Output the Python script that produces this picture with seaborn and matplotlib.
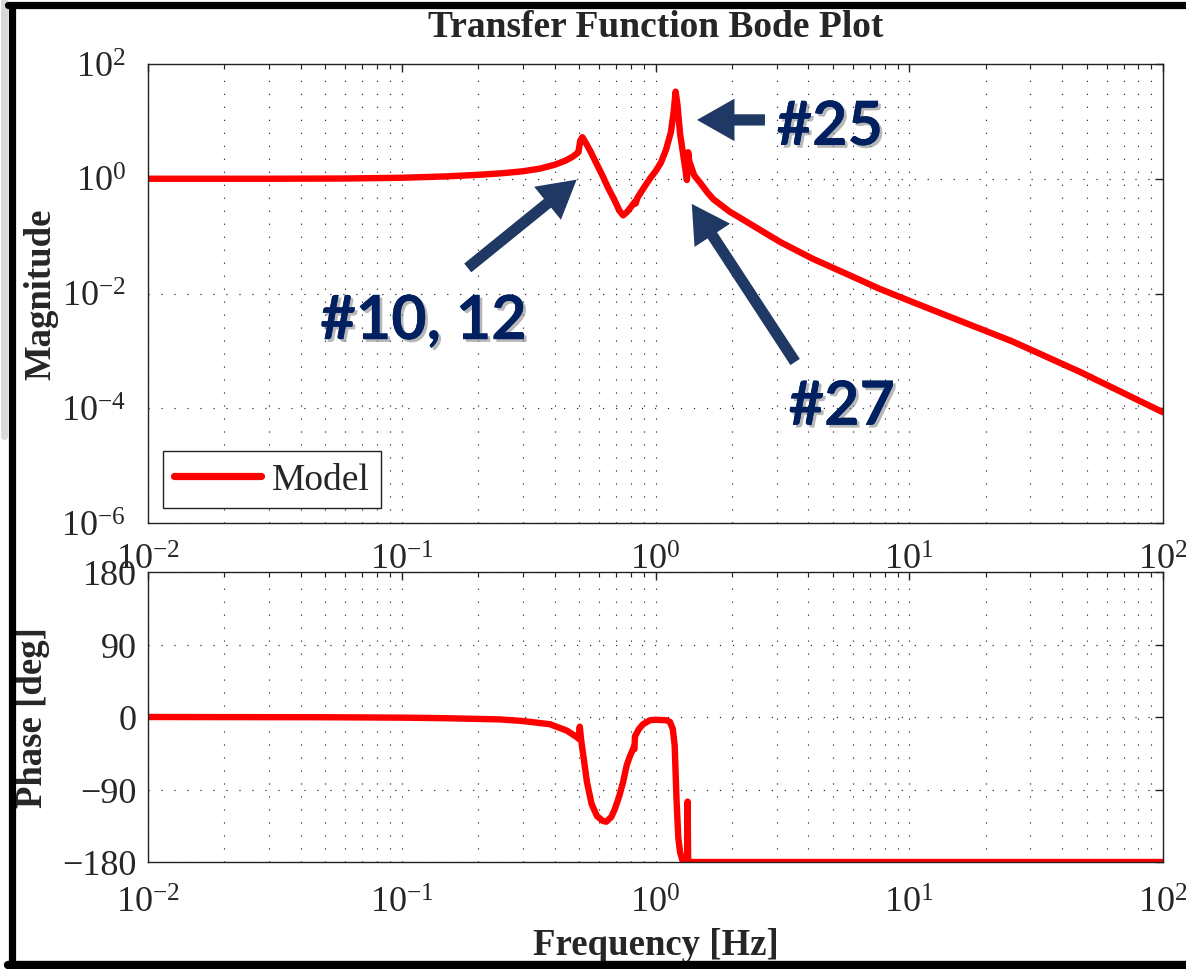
import numpy as np
import pandas as pd
import matplotlib
matplotlib.use("Agg")
import matplotlib.pyplot as plt
import matplotlib.patheffects as pe
from matplotlib.lines import Line2D
from matplotlib.ticker import LogLocator, NullLocator, NullFormatter
import seaborn as sns


# Bode magnitude
freq_mag = [0.01, 0.03, 0.06, 0.1, 0.15, 0.2, 0.25, 0.3, 0.35, 0.4, 0.44, 0.47,
            0.49, 0.497, 0.505, 0.515, 0.53, 0.55, 0.58, 0.62, 0.65, 0.69, 0.72,
            0.745, 0.77, 0.8, 0.83, 0.835, 0.85, 0.9, 0.95, 1.0, 1.05, 1.1, 1.15,
            1.18, 1.2, 1.22, 1.25, 1.28, 1.31, 1.33, 1.345, 1.36, 1.42, 1.5, 1.6,
            1.69, 1.96, 2.29, 3.1, 4.18, 5.67, 7.66, 10.3, 14.1, 25.6, 47.1, 100.0]
magnitude = [1.0, 1.0, 1.01, 1.04, 1.1, 1.17, 1.25, 1.35, 1.5, 1.75, 2.05, 2.4,
             2.75, 2.9, 4.6, 5.3, 4.3, 3.2, 2.0, 1.1, 0.7, 0.42, 0.28,
             0.23, 0.26, 0.32, 0.4, 0.37, 0.47, 0.7, 1.0, 1.35, 1.9, 3.2, 6.5,
             15.0, 33.0, 20.0, 6.0, 3.0, 1.5, 0.95, 2.9, 2.0, 1.15, 0.85, 0.58,
             0.44, 0.267, 0.177, 0.079, 0.040, 0.0219, 0.012, 7.1e-3, 4.1e-3, 1.45e-3, 4.3e-4, 8.5e-5]

# Bode phase
freq_phase = [0.01, 0.05, 0.1, 0.15, 0.244, 0.3, 0.384, 0.448, 0.49, 0.497, 0.503,
              0.51, 0.537, 0.56, 0.588, 0.62, 0.64, 0.67, 0.692, 0.72, 0.745, 0.77,
              0.79, 0.82, 0.826, 0.83, 0.86, 0.893, 0.95, 1.0, 1.1, 1.14, 1.17, 1.19,
              1.21, 1.23, 1.25, 1.28, 1.32, 1.333, 1.338, 1.345, 1.4, 100.0]
phase = [0.0, -0.3, -0.8, -1.5, -3.0, -5.0, -9.0, -17.0, -25.0, -27.0, -12.0,
         -30.0, -81.0, -108.0, -123.0, -129.0, -130.0, -124.0, -114.0, -98.0, -81.0, -60.0,
         -50.0, -38.0, -40.0, -24.0, -15.0, -9.0, -4.0, -3.5, -4.0, -6.0, -15.0, -35.0,
         -102.0, -150.0, -168.0, -179.0, -180.0, -180.0, -105.0, -180.0, -180.0, -180.0]

mag_ticks = [1e-6, 1e-4, 1e-2, 1e0, 1e2]
phase_ticks = [-180, -90, 0, 90, 180]

# annotation labels: (text, text position, arrow tail, arrow tip) in data units
notes = [
    ("#10, 12", (0.122, 3.3e-3), (0.182, 0.0279), (0.489, 0.965)),
    ("#25", (4.87, 7.98), (2.70, 10.6), (1.457, 10.6)),
    ("#27", (5.43, 1.06e-4), (3.55, 6.4e-4), (1.39, 0.364)),
]

RED = "#ff0000"
NAVY_ARROW = "#203864"
NAVY_TEXT = "#002060"

sns.set_theme(style="white")
plt.rcParams["font.family"] = ["Liberation Serif", "DejaVu Serif"]
plt.rcParams["mathtext.fontset"] = "custom"
plt.rcParams["mathtext.rm"] = "Liberation Serif"
plt.rcParams["mathtext.it"] = "Liberation Serif:italic"
plt.rcParams["mathtext.bf"] = "Liberation Serif:bold"
plt.rcParams["axes.unicode_minus"] = True

W, H = 1186, 970
fig = plt.figure(figsize=(W / 100, H / 100), dpi=100)
ax_m = fig.add_axes([148 / W, 1 - 524 / H, 1015 / W, 459 / H])
ax_p = fig.add_axes([148 / W, 1 - 863 / H, 1015 / W, 290 / H])

df_mag = pd.DataFrame({"freq": freq_mag, "mag": magnitude})
df_ph = pd.DataFrame({"freq": freq_phase, "phase": phase})

sns.lineplot(data=df_mag, x="freq", y="mag", ax=ax_m, color=RED, lw=4.6,
             estimator=None, sort=False, label="Model")
sns.lineplot(data=df_ph, x="freq", y="phase", ax=ax_p, color=RED, lw=4.6,
             estimator=None, sort=False, legend=False)

grid_kw = dict(color="#222222", lw=0.85, linestyle=(0, (1, 10)))

for ax in (ax_m, ax_p):
    ax.set_xscale("log")
    ax.set_xlim(1e-2, 1e2)
    ax.xaxis.set_major_locator(LogLocator(base=10, numticks=10))
    ax.xaxis.set_minor_locator(LogLocator(base=10, subs=np.arange(2, 10), numticks=20))
    ax.xaxis.set_minor_formatter(NullFormatter())
    ax.grid(True, which="major", axis="both", **grid_kw)
    ax.grid(True, which="minor", axis="x", **grid_kw)
    ax.tick_params(which="both", direction="in", top=True, right=True,
                   color="#222222", labelsize=26)
    ax.tick_params(which="major", length=6, width=1)
    ax.tick_params(which="minor", length=3.5, width=0.8)
    for s in ax.spines.values():
        s.set_color("#222222")
        s.set_linewidth(1.0)
    ax.set_facecolor("white")

ax_m.set_yscale("log")
ax_m.set_ylim(1e-6, 1e2)
ax_m.set_yticks(mag_ticks)
ax_m.yaxis.set_minor_locator(NullLocator())
ax_m.tick_params(axis="x", pad=15)
ax_m.tick_params(axis="y", pad=16)

ax_p.set_ylim(-180, 180)
ax_p.set_yticks(phase_ticks)
ax_p.tick_params(axis="x", pad=18)
ax_p.tick_params(axis="y", pad=8)
# top panel tick labels sit over the phase panel, like the original
ax_p.set_zorder(1)
ax_m.set_zorder(2)
ax_m.patch.set_alpha(0)

ax_m.set_title("Transfer Function Bode Plot", fontsize=27, fontweight="bold", pad=20)
ax_m.set_ylabel("Magnitude", fontsize=26.5, fontweight="bold", va="center")
ax_m.yaxis.set_label_coords((41 - 148) / 1015, 0.5)
ax_m.set_xlabel("")
ax_p.set_ylabel("Phase [deg]", fontsize=26.5, fontweight="bold", va="center")
ax_p.yaxis.set_label_coords((33 - 148) / 1015, 0.5)
ax_p.set_xlabel("Frequency [Hz]", fontsize=26.5, fontweight="bold", va="center")
ax_p.xaxis.set_label_coords(0.5, (863 - 946) / 290)

leg = ax_m.legend(loc="lower left", bbox_to_anchor=(15 / 1015, 15 / 459),
                  borderaxespad=0, fontsize=27, frameon=True, fancybox=False,
                  framealpha=1, edgecolor="#222222", handlelength=2.3,
                  handletextpad=0.3, borderpad=0.3)
leg.get_frame().set_linewidth(1.0)
for h in leg.get_lines():
    h.set_linewidth(5.2)

shadow = [pe.withSimplePatchShadow(offset=(2, -2), shadow_rgbFace="#888888", alpha=0.6),
          pe.Normal()]
for label, txt_xy, tail, tip in notes:
    ax_m.annotate("", xy=tip, xytext=tail, xycoords="data", textcoords="data",
                  arrowprops=dict(arrowstyle="simple,head_length=1.5,head_width=1.7,tail_width=0.45",
                                  mutation_scale=18, color=NAVY_ARROW, lw=0,
                                  shrinkA=0, shrinkB=0), zorder=6)
    ax_m.text(*txt_xy, label, fontsize=44, fontweight="bold", color=NAVY_TEXT,
              family=["Lato", "DejaVu Sans"], ha="center", va="center",
              zorder=7, path_effects=shadow)

# screenshot frame round the figure
fig.add_artist(Line2D([0.0035, 0.0035], [0.55, 1], transform=fig.transFigure,
                      color="#d8d8d8", lw=5))
fig.add_artist(Line2D([11.5 / W, 11.5 / W], [4 / H, 1 - 5.5 / H], transform=fig.transFigure,
                      color="black", lw=5.2))
fig.add_artist(Line2D([8 / W, 1], [1 - 5.5 / H, 1 - 5.5 / H], transform=fig.transFigure,
                      color="black", lw=5.2))
fig.add_artist(Line2D([8 / W, 1], [4 / H, 4 / H], transform=fig.transFigure,
                      color="black", lw=6))

fig.savefig("out.png", dpi=100)
